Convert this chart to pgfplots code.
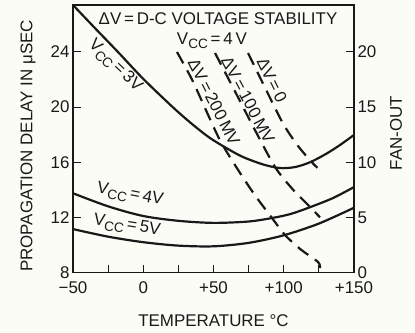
\documentclass[border=0pt]{standalone}
\usepackage{fontspec}
\setmainfont{Liberation Sans}
\usepackage{graphicx}
\usepackage{pgfplots}
\pgfplotsset{compat=1.18}
\newcommand\fs{\fontsize{17}{20}\selectfont}
\newcommand\vcc{V\raisebox{-0.45ex}{\scalebox{0.8}{CC}}}
\definecolor{bg}{RGB}{252,252,246}
\definecolor{ink}{RGB}{25,25,25}

\begin{document}
\begin{tikzpicture}
\path[use as bounding box, fill=bg] (-73bp,-60.5bp) rectangle (342bp,272.5bp);
\begin{axis}[
  at={(0,0)}, anchor=south west, scale only axis,
  width=281bp, height=267.5bp,
  xmin=-50, xmax=150, ymin=8, ymax=27.41,
  xtick pos=left, ytick pos=left, tick align=inside,
  xtick={-50,-25,...,150}, xticklabels={−50,,0,,+50,,+100,,+150},
  ytick={8,12,16,20,24}, yticklabels={8,12,16,20,24},
  tick style={ink, line width=1bp}, major tick length=8bp,
  tick label style={font=\fs, text=ink},
  xticklabel style={yshift=-6bp},
  axis line style={ink, line width=1.2bp},
  xlabel={TEMPERATURE °C}, ylabel={PROPAGATION DELAY IN μSEC},
  label style={font=\fs, text=ink},
  xlabel style={at={(axis description cs:0.5,-0.1813)}, anchor=center, inner sep=0pt},
  ylabel style={at={(axis description cs:-0.160,0.473)}, anchor=center, inner sep=0pt},
  every axis plot/.append style={ink, line width=2.2bp},
  clip=true,
]
% Vcc = 3 V
\addplot[smooth] coordinates {(-50,27.41) (-35,25.8) (-18,24.0) (0,22.05) (21,20.0) (35,18.75) (47.5,17.76) (60,16.98) (71,16.38) (85,15.85) (97,15.58) (108,15.65) (118.7,16.0) (130,16.6) (140,17.25) (150,17.98)};
% Vcc = 4 V
\addplot[smooth] coordinates {(-50,13.75) (-25,12.8) (0,12.1) (25,11.75) (50,11.6) (75,11.7) (92,11.96) (105,12.25) (119,12.75) (135,13.4) (150,14.2)};
% Vcc = 5 V
\addplot[smooth] coordinates {(-50,11.15) (-25,10.6) (0,10.2) (25,9.95) (50,9.9) (75,10.15) (100,10.7) (125,11.55) (150,12.7)};

\node[font=\fs, text=ink, inner sep=0pt] at (axis cs:53.2,26.4) {ΔV\,=\,D-C VOLTAGE STABILITY};
\node[font=\fs, text=ink, inner sep=0pt] at (axis cs:48.9,24.8) {\vcc\,=\,4\,V};
\node[font=\fs, text=ink, inner sep=0pt, rotate=-63] at (axis cs:50.4,20.37) {ΔV\,=\,200\,MV};
\node[font=\fs, text=ink, inner sep=0pt, rotate=-62] at (axis cs:74.6,20.52) {ΔV\,=\,100\,MV};
\node[font=\fs, text=ink, inner sep=0pt, rotate=-64] at (axis cs:91.6,21.97) {ΔV\,=\,0};
\node[font=\fs, text=ink, inner sep=0pt, rotate=-44] at (axis cs:-20.1,22.99) {\vcc\,=\,3V};
\node[font=\fs, text=ink, inner sep=0pt, rotate=-11] at (axis cs:-9.4,13.62) {\vcc\,=\,4V};
\node[font=\fs, text=ink, inner sep=0pt, rotate=-9] at (axis cs:-11.6,11.37) {\vcc\,=\,5V};
\end{axis}

\begin{axis}[
  at={(0,0)}, anchor=south west, scale only axis,
  width=281bp, height=267.5bp,
  xmin=-50, xmax=150, ymin=0, ymax=24.26,
  hide x axis, axis y line*=right, tick align=inside,
  ytick={0,5,10,15,20}, yticklabels={0,5,10,15,20},
  tick style={ink, line width=1bp}, major tick length=8bp,
  tick label style={font=\fs, text=ink},
  axis line style={ink, line width=1.2bp},
  ylabel={FAN-OUT},
  label style={font=\fs, text=ink},
  ylabel style={at={(axis description cs:1.1495,0.5215)}, anchor=center, inner sep=0pt},
  every axis plot/.append style={ink, line width=2.2bp, dash pattern=on 13bp off 8bp},
]
% Delta V = 200 mV
\addplot[smooth] coordinates {(24,20.0) (34.7,17.5) (44,14.9) (54.6,12.0) (66,9.6) (79,7.1) (91.6,4.95) (100.9,3.4) (112,2.1) (124.4,0.95) (125.8,0.4)};
% Delta V = 100 mV
\addplot[smooth] coordinates {(51.1,19.9) (65,16.5) (80,12.8) (93.8,9.57) (106,7.6) (118.7,5.95) (125.8,5.0)};
% Delta V = 0
\addplot[smooth] coordinates {(74.6,19.9) (90,15.9) (100,13.4) (110,11.5) (120,10.0) (124,9.5)};
\end{axis}
\end{tikzpicture}
\end{document}
